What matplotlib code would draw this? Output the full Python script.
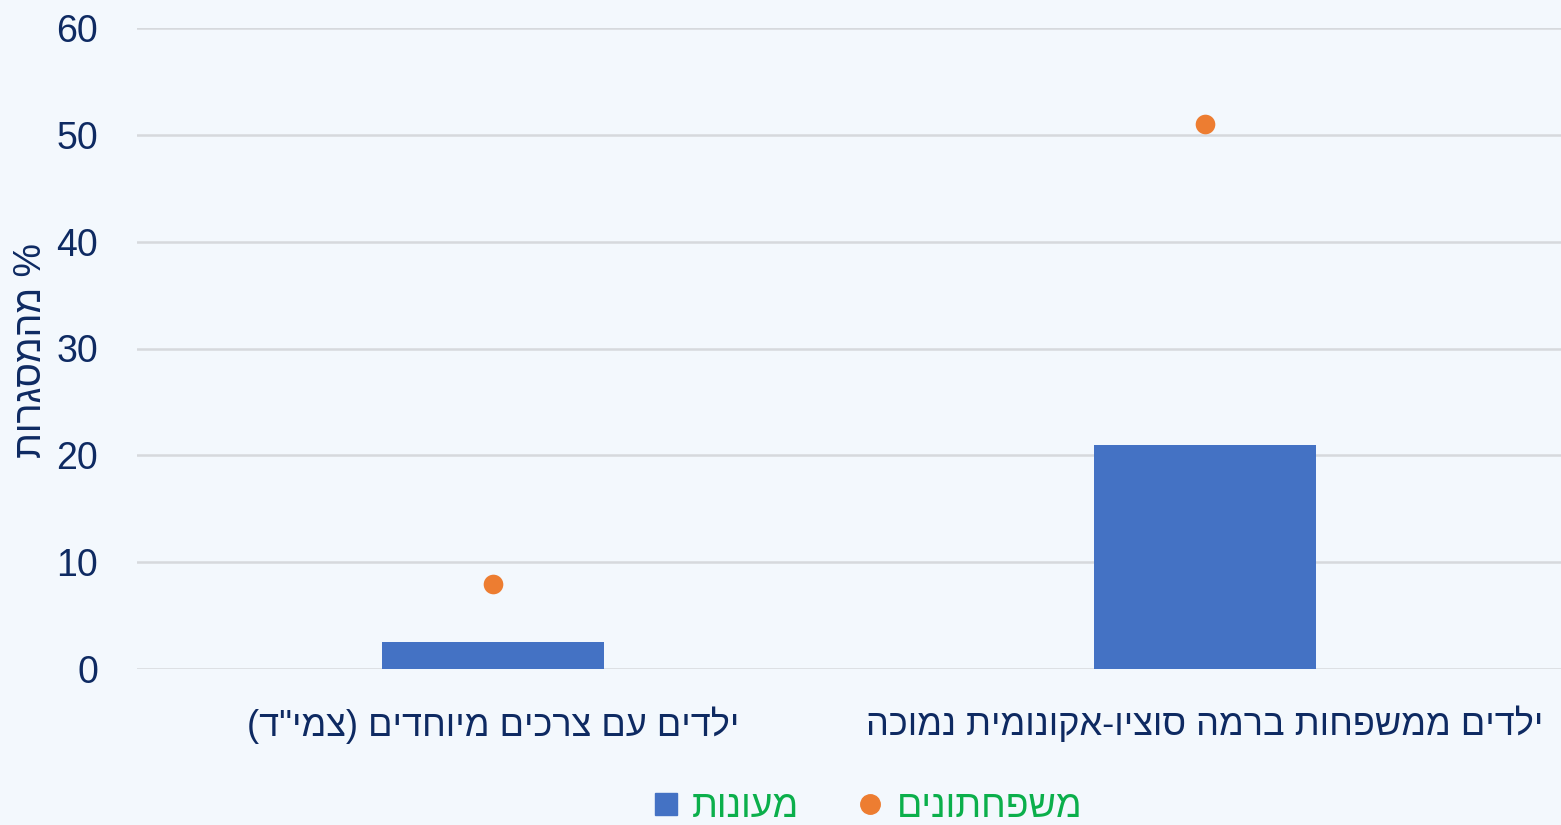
import matplotlib
matplotlib.use("Agg")
import matplotlib.pyplot as plt
from matplotlib.lines import Line2D

plt.rcParams['font.family'] = ['Liberation Sans', 'DejaVu Sans']


def heb(s):
    # matplotlib has no bidi: reverse for display, mirror brackets
    table = str.maketrans("()", ")(")
    return s[::-1].translate(table)


categories = ['ילדים עם צרכים מיוחדים (צמי"ד)',
              'ילדים ממשפחות ברמה סוציו-אקונומית נמוכה']
daycare = [2.5, 21]        # מעונות
family_care = [8, 51]      # משפחתונים
series_names = ['מעונות', 'משפחתונים']
y_ticks = [0, 10, 20, 30, 40, 50, 60]
y_label = '% מהמסגרות'

bg = '#F3F8FD'
navy = '#0E2A62'
blue = '#4472C4'
orange = '#ED7D31'
green = '#0BAF4B'

fig = plt.figure(figsize=(15.61, 8.25), dpi=100, facecolor=bg)
ax = fig.add_axes([137 / 1561, 1 - 669 / 825, 1 - 137 / 1561, (669 - 28) / 825])
ax.set_facecolor(bg)

x = list(range(len(categories)))
ax.bar(x, daycare, width=0.313, color=blue, zorder=3)
ax.scatter(x, family_care, s=200, color=orange, zorder=4, linewidths=0)

ax.set_xlim(-0.5, 1.5)
ax.set_ylim(0, 60)
ax.set_yticks(y_ticks)
ax.set_yticklabels([str(t) for t in y_ticks], fontsize=27, color=navy)
ax.set_xticks(x)
ax.set_xticklabels([heb(c) for c in categories], fontsize=26, color=navy)
ax.tick_params(axis='y', length=0, pad=28)
ax.tick_params(axis='x', length=0, pad=27)
ax.grid(axis='y', color='#D6D9DD', linewidth=1.8, zorder=0)
for sp in ax.spines.values():
    sp.set_visible(False)

fig.text(31 / 1561, 1 - 350 / 825, heb(y_label), rotation=90, fontsize=27,
         color=navy, ha='center', va='center')

handles = [Line2D([], [], marker='s', linestyle='none', markersize=16, color=blue),
           Line2D([], [], marker='o', linestyle='none', markersize=14, color=orange)]
leg = fig.legend(handles, [heb(n) for n in series_names], loc='center',
                 bbox_to_anchor=(0.555, 0.022), ncol=2, frameon=False,
                 fontsize=27, handletextpad=0.3, columnspacing=1.5,
                 handlelength=0.8)
for t in leg.get_texts():
    t.set_color(green)

fig.savefig('out.png', dpi=100, facecolor=bg)
